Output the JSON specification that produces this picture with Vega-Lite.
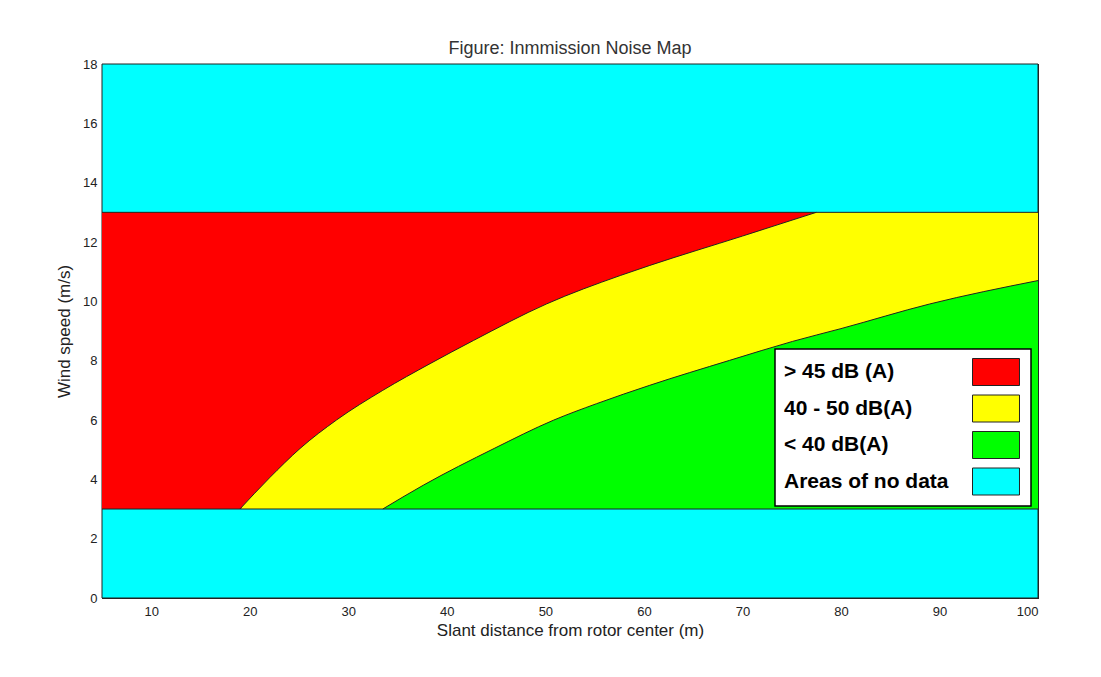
{
  "$schema": "https://vega.github.io/schema/vega-lite/v6.json",
  "width": 936,
  "height": 534,
  "autosize": {"type": "none"},
  "padding": {"left": 102, "top": 64, "right": 63, "bottom": 79},
  "background": "white",
  "title": {
    "text": "Figure: Inmmission Noise Map",
    "font": "Liberation Sans",
    "fontSize": 18,
    "fontWeight": "normal",
    "color": "#333333",
    "baseline": "alphabetic",
    "offset": -14,
    "anchor": "middle"
  },
  "datasets": {
    "rects": [
      {"zone": "Areas of no data", "x": 5, "x2": 100, "y": 0, "y2": 18},
      {"zone": "40 - 50 dB(A)", "x": 5, "x2": 100, "y": 3, "y2": 13},
      {"zone": "> 45 dB (A)", "x": 5, "x2": 19.15, "y": 3, "y2": 13}
    ],
    "levels": [
      {"level": 3},
      {"level": 13}
    ],
    "red": [
      {"zone": "> 45 dB (A)", "x": 19, "y": 3, "top": 13},
      {"zone": "> 45 dB (A)", "x": 22, "y": 4.05, "top": 13},
      {"zone": "> 45 dB (A)", "x": 25.1, "y": 5.04, "top": 13},
      {"zone": "> 45 dB (A)", "x": 28.8, "y": 6.0, "top": 13},
      {"zone": "> 45 dB (A)", "x": 33.5, "y": 7.0, "top": 13},
      {"zone": "> 45 dB (A)", "x": 38.3, "y": 7.9, "top": 13},
      {"zone": "> 45 dB (A)", "x": 42.7, "y": 8.68, "top": 13},
      {"zone": "> 45 dB (A)", "x": 50.1, "y": 9.91, "top": 13},
      {"zone": "> 45 dB (A)", "x": 57.6, "y": 10.87, "top": 13},
      {"zone": "> 45 dB (A)", "x": 60.6, "y": 11.21, "top": 13},
      {"zone": "> 45 dB (A)", "x": 70, "y": 12.2, "top": 13},
      {"zone": "> 45 dB (A)", "x": 77.5, "y": 13, "top": 13}
    ],
    "green": [
      {"zone": "< 40 dB(A)", "x": 33.5, "y": 3, "base": 3},
      {"zone": "< 40 dB(A)", "x": 37.6, "y": 3.8, "base": 3},
      {"zone": "< 40 dB(A)", "x": 44.8, "y": 5.04, "base": 3},
      {"zone": "< 40 dB(A)", "x": 50.8, "y": 5.99, "base": 3},
      {"zone": "< 40 dB(A)", "x": 55.2, "y": 6.55, "base": 3},
      {"zone": "< 40 dB(A)", "x": 60.6, "y": 7.17, "base": 3},
      {"zone": "< 40 dB(A)", "x": 68.7, "y": 8.01, "base": 3},
      {"zone": "< 40 dB(A)", "x": 75.1, "y": 8.65, "base": 3},
      {"zone": "< 40 dB(A)", "x": 80, "y": 9.08, "base": 3},
      {"zone": "< 40 dB(A)", "x": 89, "y": 9.91, "base": 3},
      {"zone": "< 40 dB(A)", "x": 100, "y": 10.7, "base": 3}
    ]
  },
  "layer": [
    {
      "data": {"name": "rects"},
      "transform": [{"filter": "datum.zone === 'Areas of no data'"}],
      "mark": {"type": "rect", "stroke": "#222222", "strokeWidth": 1, "opacity": 1},
      "encoding": {
        "x": {"field": "x", "type": "quantitative",
              "scale": {"domain": [5, 100], "nice": false, "zero": false},
              "axis": {"orient": "bottom", "title": "Slant distance from rotor center (m)",
                       "values": [10, 20, 30, 40, 50, 60, 70, 80, 90, 100],
                       "labelPadding": 14, "titlePadding": 4}},
        "x2": {"field": "x2"},
        "y": {"field": "y", "type": "quantitative",
              "scale": {"domain": [0, 18], "nice": false, "zero": false},
              "axis": {"orient": "left", "title": "Wind speed (m/s)",
                       "values": [0, 2, 4, 6, 8, 10, 12, 14, 16, 18],
                       "labelPadding": 12, "titlePadding": 9}},
        "y2": {"field": "y2"},
        "color": {"field": "zone", "type": "nominal",
                  "scale": {"domain": ["> 45 dB (A)", "40 - 50 dB(A)", "< 40 dB(A)", "Areas of no data"],
                            "range": ["#ff0000", "#ffff00", "#00ff00", "#00ffff"]},
                  "legend": {"title": null}}
      }
    },
    {
      "data": {"name": "rects"},
      "transform": [{"filter": "datum.zone !== 'Areas of no data'"}],
      "mark": {"type": "rect", "strokeWidth": 0, "opacity": 1},
      "encoding": {
        "x": {"field": "x", "type": "quantitative",
              "axis": {"orient": "top", "title": null, "labels": false, "domain": true,
                       "values": [10, 20, 30, 40, 50, 60, 70, 80, 90, 100]}},
        "x2": {"field": "x2"},
        "y": {"field": "y", "type": "quantitative",
              "axis": {"orient": "right", "title": null, "labels": false, "domain": true,
                       "values": [0, 2, 4, 6, 8, 10, 12, 14, 16, 18]}},
        "y2": {"field": "y2"},
        "color": {"field": "zone", "type": "nominal", "legend": {"title": null}}
      }
    },
    {
      "data": {"name": "red"},
      "mark": {"type": "area", "strokeWidth": 0, "opacity": 1, "interpolate": "monotone"},
      "encoding": {
        "x": {"field": "x", "type": "quantitative", "axis": null},
        "y": {"field": "y", "type": "quantitative", "stack": null, "axis": null},
        "y2": {"field": "top"},
        "color": {"field": "zone", "type": "nominal", "legend": {"title": null}}
      }
    },
    {
      "data": {"name": "green"},
      "mark": {"type": "area", "strokeWidth": 0, "opacity": 1, "interpolate": "monotone"},
      "encoding": {
        "x": {"field": "x", "type": "quantitative", "axis": null},
        "y": {"field": "y", "type": "quantitative", "stack": null, "axis": null},
        "y2": {"field": "base"},
        "color": {"field": "zone", "type": "nominal", "legend": {"title": null}}
      }
    },
    {
      "data": {"name": "red"},
      "mark": {"type": "line", "stroke": "#222222", "strokeWidth": 1, "interpolate": "monotone"},
      "encoding": {
        "x": {"field": "x", "type": "quantitative", "axis": null},
        "y": {"field": "y", "type": "quantitative", "axis": null}
      }
    },
    {
      "data": {"name": "green"},
      "mark": {"type": "line", "stroke": "#222222", "strokeWidth": 1, "interpolate": "monotone"},
      "encoding": {
        "x": {"field": "x", "type": "quantitative", "axis": null},
        "y": {"field": "y", "type": "quantitative", "axis": null}
      }
    },
    {
      "data": {"name": "levels"},
      "mark": {"type": "rule", "stroke": "#222222", "strokeWidth": 1},
      "encoding": {
        "y": {"field": "level", "type": "quantitative", "axis": null}
      }
    }
  ],
  "resolve": {"axis": {"x": "independent", "y": "independent"}},
  "config": {
    "view": {"stroke": "#222222", "strokeWidth": 1},
    "axis": {
      "grid": false,
      "zindex": 1,
      "tickSize": -7,
      "tickColor": "#222222",
      "tickWidth": 1,
      "domainColor": "#222222",
      "domainWidth": 1,
      "labelFont": "Liberation Sans",
      "labelFontSize": 13,
      "labelColor": "#222222",
      "titleFont": "Liberation Sans",
      "titleFontSize": 17,
      "titleFontWeight": "normal",
      "titleColor": "#222222"
    },
    "legend": {
      "orient": "none",
      "legendX": 673,
      "legendY": 285,
      "padding": 9,
      "fillColor": "#ffffff",
      "strokeColor": "#000000",
      "strokeWidth": 1.5,
      "symbolType": "M-1.74,-1L1.74,-1L1.74,1L-1.74,1Z",
      "symbolSize": 729,
      "symbolStrokeColor": "#222222",
      "symbolStrokeWidth": 1,
      "symbolOpacity": 1,
      "symbolOffset": 198,
      "labelOffset": -226,
      "rowPadding": 4.5,
      "labelFont": "Liberation Sans",
      "labelFontSize": 21,
      "labelFontWeight": "bold",
      "labelColor": "#000000",
      "labelLimit": 400
    }
  }
}
